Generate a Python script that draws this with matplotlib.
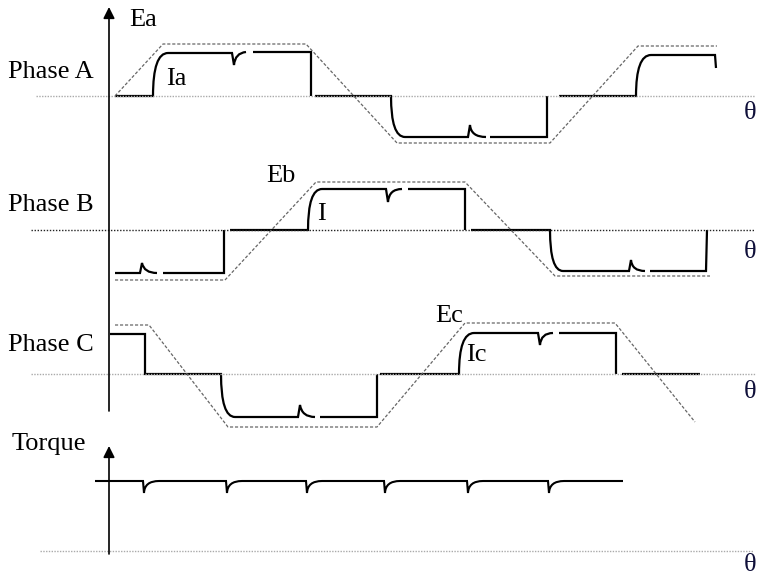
import matplotlib
matplotlib.use("Agg")
import matplotlib.pyplot as plt
from matplotlib.path import Path
from matplotlib.patches import PathPatch

# all positions in pixels (x to the right, y down)

# zero lines of each trace
zero_a, zero_b, zero_c, zero_t = 96, 230, 374, 551

# back-EMF trapezoids (corner points)
ea_x = [115, 163, 306, 397, 550, 638, 717]
ea_y = [96, 44, 44, 143, 143, 46, 46]
eb_x = [115, 225, 316, 465, 555, 710]
eb_y = [280, 280, 182, 182, 276, 276]
ec_x = [115, 149, 228, 377, 465, 615, 695]
ec_y = [325, 325, 427, 427, 323, 323, 422]

# phase currents: strokes of (x, y, code); 'Q' is the control point of a rounded corner
ia_strokes = [
    [(115, 96, 'M'), (153, 96, 'L'), (153, 53, 'Q'), (168, 53, 'L'), (232, 53, 'L'),
     (234, 65, 'L'), (235, 53, 'Q'), (246, 52, 'L')],
    [(253, 52, 'M'), (311, 52, 'L'), (311, 96, 'L')],
    [(315, 96, 'M'), (391, 96, 'L'), (391, 137, 'Q'), (405, 137, 'L'), (468, 137, 'L'),
     (470, 125, 'L'), (471, 137, 'Q'), (486, 137, 'L')],
    [(490, 137, 'M'), (547, 137, 'L'), (547, 96, 'L')],
    [(559, 96, 'M'), (636, 96, 'L'), (636, 55, 'Q'), (651, 55, 'L'), (715, 55, 'L'),
     (716, 68, 'L')],
]
ib_strokes = [
    [(115, 273, 'M'), (140, 273, 'L'), (142, 263, 'L'), (144, 273, 'Q'), (157, 273, 'L')],
    [(163, 273, 'M'), (224, 273, 'L'), (224, 230, 'L')],
    [(230, 230, 'M'), (308, 230, 'L'), (308, 189, 'Q'), (322, 189, 'L'), (386, 189, 'L'),
     (388, 202, 'L'), (389, 189, 'Q'), (402, 189, 'L')],
    [(408, 189, 'M'), (465, 189, 'L'), (465, 230, 'L')],
    [(471, 230, 'M'), (550, 230, 'L'), (550, 271, 'Q'), (563, 271, 'L'), (629, 271, 'L'),
     (631, 260, 'L'), (632, 271, 'Q'), (645, 271, 'L')],
    [(650, 271, 'M'), (706, 271, 'L'), (707, 230, 'L')],
]
ic_strokes = [
    [(110, 334, 'M'), (145, 334, 'L'), (145, 374, 'L'), (221, 374, 'L'), (221, 417, 'Q'),
     (235, 417, 'L'), (298, 417, 'L'), (300, 405, 'L'), (302, 417, 'Q'), (315, 417, 'L')],
    [(320, 417, 'M'), (377, 417, 'L'), (377, 374, 'L')],
    [(380, 374, 'M'), (459, 374, 'L'), (459, 333, 'Q'), (474, 333, 'L'), (538, 333, 'L'),
     (540, 345, 'L'), (541, 333, 'Q'), (553, 333, 'L')],
    [(559, 333, 'M'), (616, 333, 'L'), (616, 374, 'L')],
    [(622, 374, 'M'), (700, 374, 'L')],
]

# torque
torque_start, torque_end = 95, 623
torque_level, torque_dip = 481, 493
torque_dips = [143, 226, 306, 384, 467, 548]

labels = [("Phase A", 8, 72), ("Phase B", 8, 205), ("Phase C", 8, 345), ("Torque", 12, 444),
          ("Ea", 129, 20), ("Ia", 166, 79), ("Eb", 266, 176), ("I", 317, 214),
          ("Ec", 435, 316), ("Ic", 466, 355)]
theta_y = [113, 252, 392, 565]


def draw_strokes(ax, strokes, lw=1.6):
    for s in strokes:
        verts = [(p[0], p[1]) for p in s]
        codes = [Path.MOVETO if p[2] == 'M' else Path.LINETO for p in s]
        for i, p in enumerate(s):
            if p[2] == 'Q':
                codes[i] = Path.CURVE3
                codes[i + 1] = Path.CURVE3
        ax.add_patch(PathPatch(Path(verts, codes), fill=False, lw=lw, color='black',
                               joinstyle='miter', capstyle='butt'))


fig = plt.figure(figsize=(7.62, 5.79), dpi=100)
ax = fig.add_axes([0, 0, 1, 1])
ax.set_xlim(0, 762)
ax.set_ylim(579, 0)
ax.axis('off')

# zero lines
ax.plot([36, 755], [zero_a, zero_a], color='#aaaaaa', lw=1, ls=(0, (1, 1)))
ax.plot([31, 755], [zero_b, zero_b], color='#222222', lw=1, ls=(0, (1, 1.2)))
ax.plot([31, 755], [zero_c, zero_c], color='#aaaaaa', lw=1, ls=(0, (1, 1)))
ax.plot([40, 753], [zero_t, zero_t], color='#aaaaaa', lw=1, ls=(0, (1, 1)))

# back-EMF
for ex, ey in [(ea_x, ea_y), (eb_x, eb_y), (ec_x, ec_y)]:
    ax.plot(ex, ey, color='#666666', lw=0.9, ls=(0, (2.5, 1.5)))

# currents
draw_strokes(ax, ia_strokes)
draw_strokes(ax, ib_strokes)
draw_strokes(ax, ic_strokes)

# torque trace
tverts = [(torque_start, torque_level)]
tcodes = [Path.MOVETO]
for d in torque_dips:
    tverts += [(d, torque_level), (d + 1, torque_dip), (d + 1.5, torque_level), (d + 16, torque_level)]
    tcodes += [Path.LINETO, Path.LINETO, Path.CURVE3, Path.CURVE3]
tverts.append((torque_end, torque_level))
tcodes.append(Path.LINETO)
ax.add_patch(PathPatch(Path(tverts, tcodes), fill=False, lw=1.5, color='black'))

# axes with arrows
arrow = dict(arrowstyle='-|>', lw=1.2, color='black', mutation_scale=17, shrinkA=0, shrinkB=0)
ax.annotate('', xy=(109, 7), xytext=(109, 411), arrowprops=arrow)
ax.annotate('', xy=(109, 446), xytext=(109, 554), arrowprops=arrow)

for txt, x, y in labels:
    ax.text(x, y, txt, fontsize=19, family='Liberation Serif', ha='left', va='center')
for y in theta_y:
    ax.text(744, y, 'θ', fontsize=19, family='Liberation Serif', ha='left', va='center',
            color='#10103a')

fig.savefig('out.png', dpi=100)
